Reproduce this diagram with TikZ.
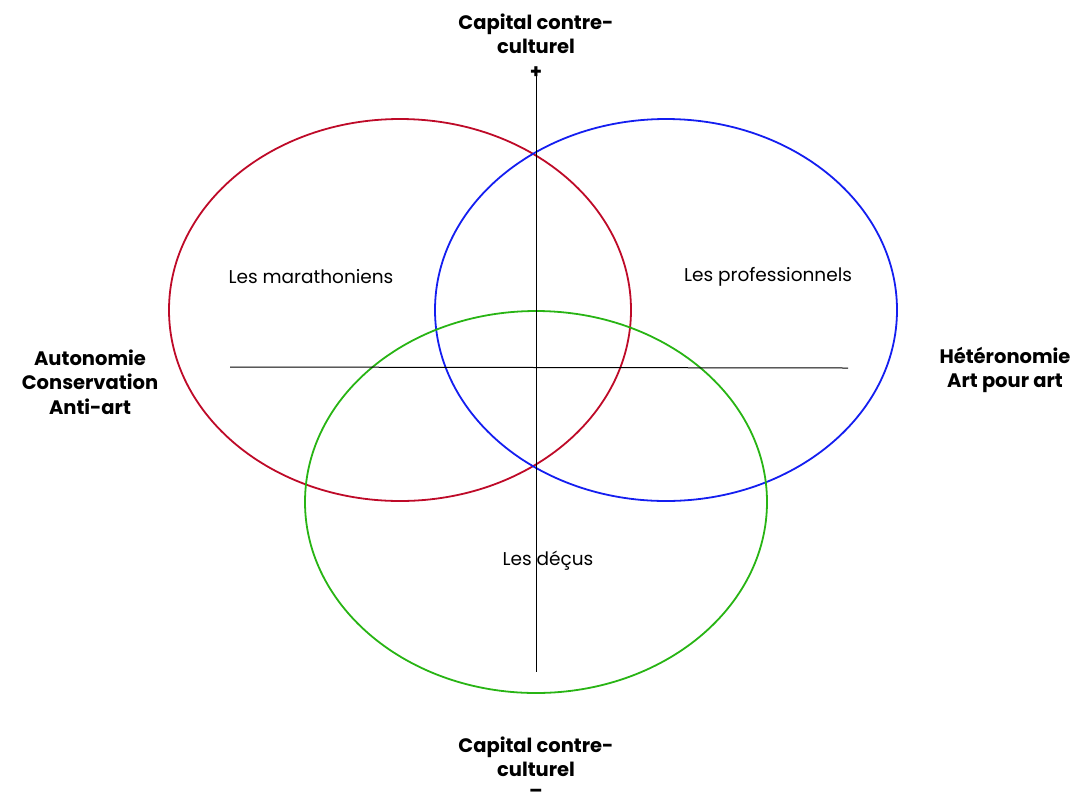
\documentclass[tikz,border=0pt]{standalone}
\usepackage{fontspec}
\setmainfont{Poppins}
\definecolor{cred}{RGB}{190,10,40}
\definecolor{cblue}{RGB}{20,30,240}
\definecolor{cgreen}{RGB}{40,180,20}
\begin{document}
\begin{tikzpicture}[x=1pt,y=-1pt,
  circ/.style={line width=1.8pt},
  axis/.style={line width=1pt},
  lab/.style={font=\fontsize{18.5}{18.5}\selectfont, inner sep=0pt, anchor=center},
  ax/.style={font=\fontsize{19.5}{24.5}\selectfont\bfseries, align=center, inner sep=0pt}]
\useasboundingbox (0,0) rectangle (1083,801);
\draw[circ,cred] (400,310) ellipse [x radius=231, y radius=191];
\draw[circ,cblue] (666,310) ellipse [x radius=231, y radius=191];
\draw[circ,cgreen] (536,502) ellipse [x radius=231, y radius=191];
\coordinate (vt) at (536,75);
\coordinate (vb) at (536,672);
\coordinate (hl) at (230,367);
\coordinate (hr) at (848,368);
\draw[axis] (vt) -- (vb);
\draw[axis] (hl) -- (hr);
\node[lab] (m) at (311,277) {Les marathoniens};
\node[lab] (p) at (768,277) {Les professionnels};
\node[lab] (d) at (548,561) {Les déçus};
\node[ax] (top) at (536,46) {Capital contre-\\culturel\\+};
\node[ax] (bot) at (536,757) {Capital contre-\\culturel};
\node[ax, anchor=base, font=\fontsize{19.5}{19.5}\selectfont\bfseries] (minus) at (536,797) {–};
\node[ax] (left) at (90,382) {Autonomie\\Conservation\\Anti-art};
\node[ax] (right) at (1005,370) {Hétéronomie\\Art pour art};
\end{tikzpicture}
\end{document}
